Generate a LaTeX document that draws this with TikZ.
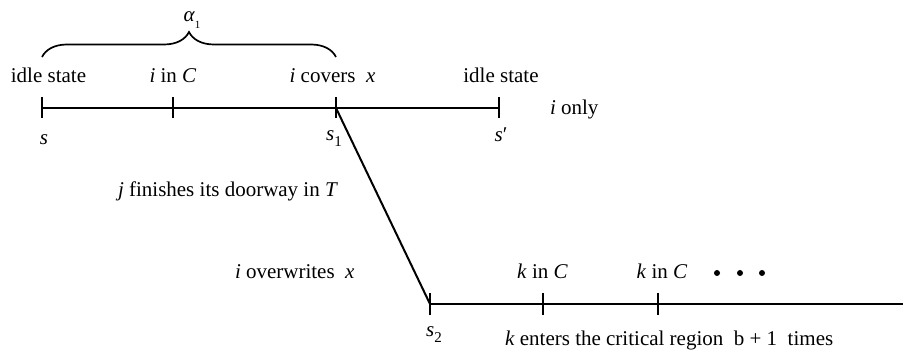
\documentclass[tikz,border=0pt]{standalone}
\usepackage{fontspec}
\setmainfont{Liberation Serif}
\usetikzlibrary{decorations.pathreplacing}
\newcommand{\subone}[1]{\raisebox{-0.28em}{\fontsize{15}{15}\selectfont #1}}
\tikzset{
  lbl/.style={inner sep=0pt, outer sep=0pt, anchor=base, font=\fontsize{21}{25}\selectfont},
  lblw/.style={lbl, anchor=base west},
  axis/.style={line width=2pt},
  tickmark/.style={line width=2.4pt},
  dotmark/.style={fill=black, draw=none},
}
\begin{document}
\begin{tikzpicture}[x=1pt, y=-1pt]
\useasboundingbox (0,0) rectangle (903,358);
% key points
\coordinate (s) at (42,108);
\coordinate (c) at (173,108);
\coordinate (s1) at (336,108);
\coordinate (sp) at (499,108);
\coordinate (s2) at (430,304);
\coordinate (k1) at (543,304);
\coordinate (k2) at (658,304);
\coordinate (end) at (903,304);
% lines
\draw[axis] (s) -- (sp);
\draw[axis] (s1) -- (s2);
\draw[axis] (s2) -- (end);
\foreach \p in {s,c,s1,sp}{\draw[tickmark] ([yshift=-10pt]\p) -- ([yshift=11pt]\p);}
\foreach \p in {s2,k1,k2}{\draw[tickmark] ([yshift=-11pt]\p) -- ([yshift=11pt]\p);}
% brace
\coordinate (bl) at (42,57);
\coordinate (br) at (336,57);
\draw[line width=1.7pt, decorate, decoration={brace, amplitude=25pt}] (bl) -- (br);
\node[lbl] (alpha) at (192,22) {\textit{α}\raisebox{-0.3em}{\fontsize{11}{11}\selectfont 1}};
% top labels
\node[lbl] (idle1) at (48.5,83) {idle state};
\node[lbl] (inC) at (173,83) {\textit{i} in \textit{C}};
\node[lbl] (cov) at (332.5,83) {\textit{i} covers\ \ \textit{x}};
\node[lbl] (idle2) at (501,83) {idle state};
\node[lblw] (only) at (550,115) {\textit{i} only};
\node[lbl] (ls) at (44,145) {\textit{s}};
\node[lbl] (ls1) at (334,141) {\textit{s}\subone{1}};
\node[lbl] (lsp) at (501,142) {\textit{s}′};
% middle labels
\node[lblw] (jfin) at (118,197) {\textit{j} finishes its doorway in \textit{T}};
\node[lblw] (iover) at (235,279) {\textit{i} overwrites\ \ \textit{x}};
% bottom labels
\node[lbl] (kC1) at (542.5,279) {\textit{k} in \textit{C}};
\node[lbl] (kC2) at (662,279) {\textit{k} in \textit{C}};
\fill[dotmark] (717,273) circle (3pt) (740,273) circle (3pt) (762,273) circle (3pt);
\node[lbl] (ls2) at (434,337) {\textit{s}\subone{2}};
\node[lblw] (kent) at (505,345) {\textit{k} enters the critical region\ \ b + 1\ \ times};
\end{tikzpicture}
\end{document}
